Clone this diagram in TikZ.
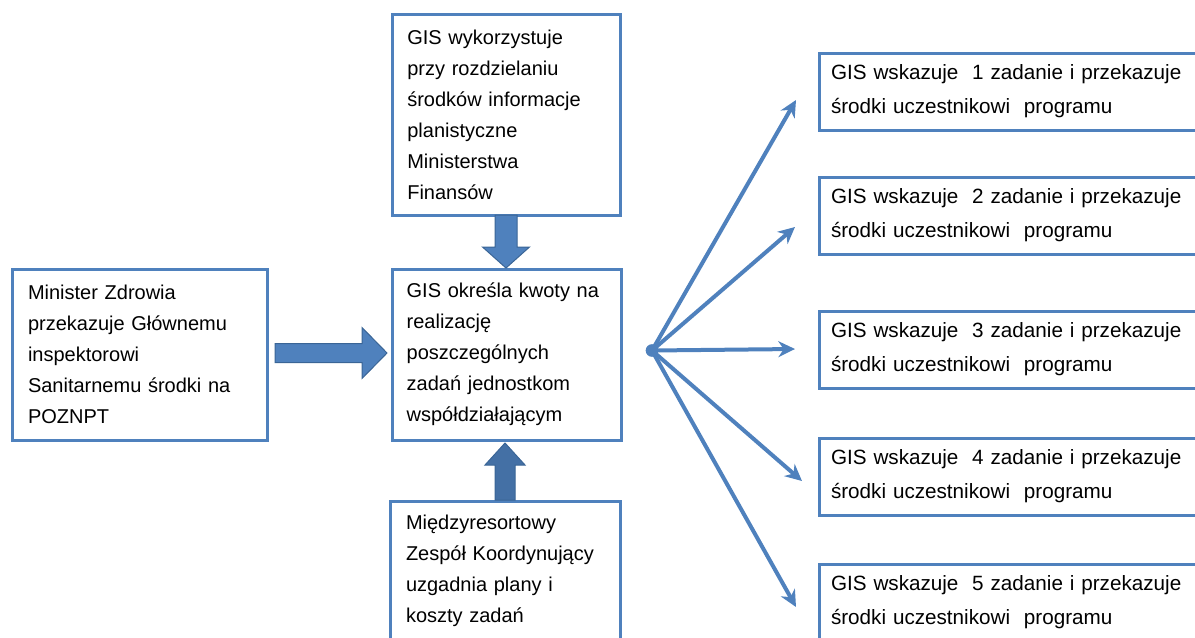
\documentclass[tikz,border=0pt]{standalone}
\usepackage{fontspec}
\setmainfont{Liberation Sans}
\usetikzlibrary{calc,arrows.meta}

\definecolor{boxblue}{HTML}{4F81BD}
\definecolor{arrowfill}{HTML}{4F81BD}
\definecolor{arrowline}{HTML}{3A6596}
\definecolor{uparrowfill}{HTML}{4470A5}

\tikzset{every picture/.style={line width=0.75pt}}

\begin{document}
\begin{tikzpicture}[x=0.75pt,y=0.75pt,yscale=-1,xscale=1,
	box/.style={draw=boxblue, line width=2.25pt, fill=white, rectangle, anchor=north west, outer sep=0pt, align=left, font=\fontsize{15}{23.25}\selectfont},
	taskbox/.style={box, minimum width=297pt, minimum height=57.75pt, text width=279pt, inner xsep=9pt, font=\fontsize{15.5}{25.5}\selectfont},
	blockarrow/.style={fill=arrowfill, draw=arrowline, line width=0.75pt, line join=miter},
	fan/.style={draw=boxblue, line width=3pt, -{Stealth[length=12.5pt,width=12pt,inset=4pt]}},
	hubdot/.style={circle, fill=boxblue, inner sep=0pt, minimum size=9.5pt}]
	%set diagram size: 1195 x 637
	\useasboundingbox (0,0) rectangle (1195,637);
	\clip (0,0) rectangle (1195,637);
	
	% Text Node
	\node [box, minimum width=191.25pt, minimum height=128.25pt, text width=167.25pt, inner xsep=12pt] (minister) at (12,269) {Minister Zdrowia\\przekazuje Głównemu\\inspektorowi\\Sanitarnemu środki na\\POZNPT};
	% Text Node
	\node [box, minimum width=171pt, minimum height=150.75pt, text width=148pt, inner xsep=11.5pt] (finanse) at (392,14) {GIS wykorzystuje\\przy rozdzielaniu\\środków informacje\\planistyczne\\Ministerstwa\\Finansów};
	% Text Node
	\node [box, minimum width=171.75pt, minimum height=128.25pt, text width=149.75pt, inner xsep=11pt] (kwoty) at (392,269) {GIS określa kwoty na\\realizację\\poszczególnych\\zadań jednostkom\\współdziałającym};
	% Text Node
	\node [box, minimum width=172.5pt, minimum height=105pt, text width=148.5pt, inner xsep=12pt] (zespol) at (390,501) {Międzyresortowy\\Zespół Koordynujący\\uzgadnia plany i\\koszty zadań};
	
	% Text Node
	\node [taskbox] (task1) at (819,53) {GIS wskazuje~ 1 zadanie i przekazuje\\środki uczestnikowi~ programu};
	% Text Node
	\node [taskbox] (task2) at (819,177) {GIS wskazuje~ 2 zadanie i przekazuje\\środki uczestnikowi~ programu};
	% Text Node
	\node [taskbox] (task3) at (819,311) {GIS wskazuje~ 3 zadanie i przekazuje\\środki uczestnikowi~ programu};
	% Text Node
	\node [taskbox] (task4) at (819,438) {GIS wskazuje~ 4 zadanie i przekazuje\\środki uczestnikowi~ programu};
	% Text Node
	\node [taskbox] (task5) at (819,564) {GIS wskazuje~ 5 zadanie i przekazuje\\środki uczestnikowi~ programu};
	
	%Right Arrow
	\draw [blockarrow] (minister.east) ++(8,-11) -- ++(87,0) -- ++(0,-16) -- ++(25,25.5) -- ++(-25,25.5) -- ++(0,-16) -- ++(-87,0) -- cycle ;
	%Down Arrow
	\draw [blockarrow] (finanse.south) ++(-11,0) -- ++(0,32) -- ++(-12.5,0) -- ++(23.5,21) -- ++(23.5,-21) -- ++(-12.5,0) -- ++(0,-32) -- cycle ;
	%Up Arrow
	\draw [blockarrow, fill=uparrowfill] (zespol.north) ++(-10,-1) -- ++(0,-35) -- ++(-10,0) -- ++(20,-22) -- ++(20,22) -- ++(-10,0) -- ++(0,35) -- cycle ;
	
	%Shape: Circle
	\node [hubdot] (hub) at ($(kwoty.east)+(31,-4)$) {};
	%Straight Lines
	\draw [fan] (hub.center) -- ($(task1.west)+(-23,8.5)$) ;
	%Straight Lines
	\draw [fan] (hub.center) -- ($(task2.west)+(-24,11.5)$) ;
	%Straight Lines
	\draw [fan] (hub.center) -- ($(task3.west)+(-24,-0.5)$) ;
	%Straight Lines
	\draw [fan] (hub.center) -- ($(task4.west)+(-17,4.5)$) ;
	%Straight Lines
	\draw [fan] (hub.center) -- ($(task5.west)+(-23,4.5)$) ;
\end{tikzpicture}
\end{document}
